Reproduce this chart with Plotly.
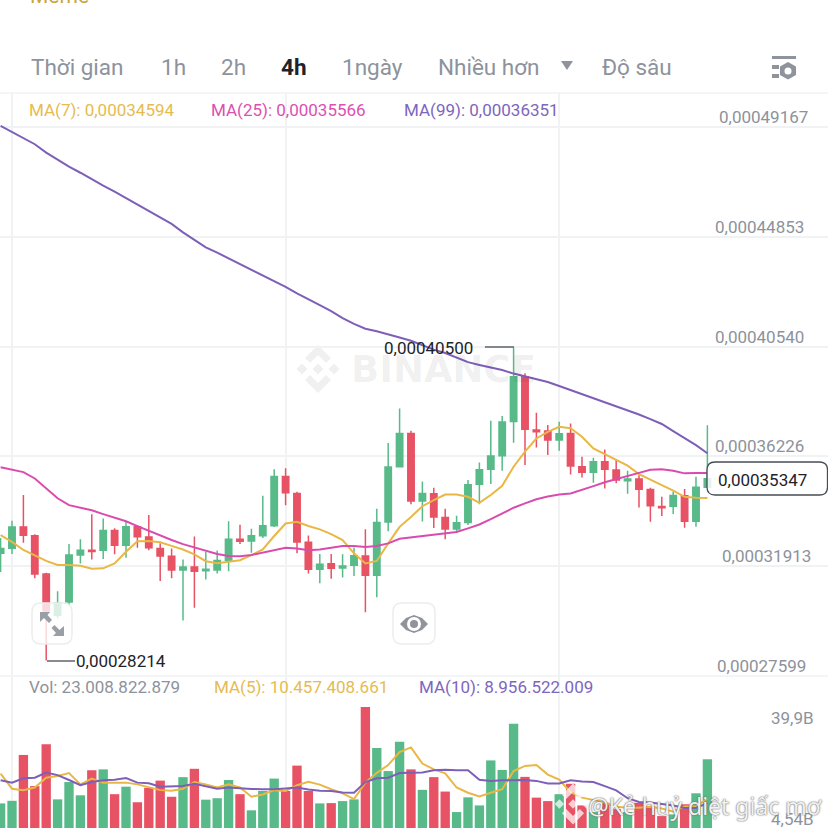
import plotly.graph_objects as go

# prices are in units of 0.0000001, volumes in billions
opens = [3242, 3262, 3345, 3311, 3161, 2999, 3051, 3235, 3254, 3254, 3332, 3274, 3346, 3306, 3261, 3230,
         3176, 3188, 3173, 3176, 3215, 3297, 3290, 3311, 3350, 3544, 3477, 3285, 3179, 3201, 3184, 3195,
         3231, 3156, 3365, 3582, 3713, 3447, 3476, 3383, 3337, 3363, 3513, 3572, 3625, 3760, 3936, 3726,
         3722, 3687, 3713, 3582, 3560, 3602, 3569, 3527, 3534, 3493, 3426, 3427, 3468, 3368, 3501]
highs = [3302, 3370, 3471, 3317, 3166, 3093, 3278, 3297, 3395, 3379, 3340, 3365, 3353, 3392, 3281, 3261,
         3218, 3308, 3248, 3253, 3368, 3354, 3338, 3468, 3572, 3576, 3484, 3312, 3239, 3239, 3238, 3265,
         3336, 3417, 3675, 3811, 3723, 3524, 3499, 3417, 3389, 3530, 3599, 3763, 3781, 4050, 3949, 3794,
         3746, 3759, 3752, 3621, 3617, 3650, 3611, 3566, 3549, 3499, 3464, 3484, 3495, 3543, 3745]
lows = [3168, 3239, 3283, 3144, 2821, 2987, 3036, 3202, 3218, 3220, 3238, 3224, 3264, 3254, 3133, 3144,
        2978, 3028, 3139, 3163, 3171, 3278, 3244, 3302, 3345, 3431, 3242, 3163, 3124, 3142, 3147, 3153,
        3010, 3069, 3329, 3582, 3435, 3367, 3341, 3297, 3326, 3353, 3435, 3514, 3566, 3676, 3589, 3658,
        3628, 3645, 3552, 3540, 3519, 3497, 3517, 3476, 3422, 3366, 3388, 3396, 3342, 3346, 3501]
closes = [3261, 3345, 3313, 3161, 3015, 3046, 3235, 3254, 3249, 3332, 3274, 3346, 3307, 3264, 3231, 3176,
          3188, 3171, 3179, 3214, 3297, 3289, 3311, 3350, 3544, 3480, 3286, 3179, 3199, 3183, 3192, 3232,
          3156, 3363, 3581, 3713, 3447, 3477, 3385, 3337, 3362, 3511, 3570, 3624, 3758, 3936, 3729, 3719,
          3687, 3712, 3585, 3560, 3602, 3572, 3530, 3534, 3494, 3429, 3421, 3469, 3368, 3501, 3535]

ma7 = [3313, 3287, 3255, 3235, 3212, 3196, 3196, 3193, 3181, 3183, 3202, 3248, 3289, 3290, 3285, 3271,
       3257, 3238, 3211, 3203, 3210, 3215, 3235, 3257, 3310, 3359, 3366, 3349, 3336, 3317, 3294, 3242,
       3202, 3212, 3281, 3346, 3385, 3427, 3451, 3473, 3473, 3464, 3440, 3471, 3507, 3582, 3641, 3693,
       3719, 3739, 3733, 3700, 3654, 3632, 3608, 3586, 3553, 3530, 3510, 3488, 3464, 3460, 3459]
ma25 = [3580, 3572, 3561, 3536, 3497, 3458, 3431, 3422, 3411, 3396, 3381, 3368, 3349, 3330, 3310, 3294,
        3278, 3265, 3251, 3239, 3231, 3230, 3235, 3245, 3253, 3264, 3261, 3254, 3257, 3265, 3271, 3271,
        3267, 3271, 3281, 3299, 3304, 3311, 3316, 3319, 3326, 3340, 3355, 3376, 3399, 3421, 3438, 3454,
        3465, 3473, 3477, 3490, 3506, 3521, 3534, 3548, 3558, 3570, 3572, 3566, 3556, 3557, 3557]
ma99 = [4921, 4896, 4872, 4849, 4816, 4787, 4761, 4737, 4711, 4686, 4663, 4638, 4614, 4588, 4562, 4536,
        4503, 4473, 4444, 4423, 4401, 4378, 4355, 4332, 4312, 4289, 4263, 4241, 4217, 4193, 4166, 4143,
        4124, 4114, 4103, 4090, 4077, 4060, 4042, 4029, 4011, 3993, 3982, 3972, 3962, 3948, 3938, 3928,
        3915, 3899, 3883, 3868, 3852, 3836, 3820, 3805, 3787, 3769, 3750, 3722, 3695, 3667, 3635]

volumes = [8.9, 9.8, 25.7, 14.9, 29.4, 10.3, 16.3, 11.7, 20.4, 20.7, 12.1, 14.7, 9.3, 14.3, 16.8, 11.2,
           18.0, 20.9, 10.2, 10.7, 17.0, 12.1, 6.5, 13.2, 17.5, 13.2, 22.0, 13.2, 8.9, 9.0, 9.7, 10.3,
           42.3, 28.1, 20.1, 30.3, 20.7, 13.6, 18.0, 13.0, 5.9, 11.0, 8.2, 23.8, 20.5, 36.5, 18.1, 10.9,
           9.7, 12.1, 15.7, 8.2, 5.9, 9.1, 6.9, 5.9, 9.1, 8.0, 4.5, 5.1, 8.6, 12.4, 24.2]
vol_ma5 = [19.2, 14.0, 13.5, 14.4, 17.8, 18.4, 19.4, 15.5, 17.5, 16.1, 16.1, 16.1, 15.5, 14.4, 13.5, 13.3,
           14.0, 16.3, 15.5, 14.4, 15.5, 14.4, 11.2, 12.0, 13.5, 13.2, 15.2, 16.4, 15.4, 13.8, 12.4, 10.4,
           16.1, 19.5, 22.2, 26.7, 28.3, 22.7, 20.7, 19.3, 14.4, 12.6, 11.3, 12.6, 13.8, 20.1, 21.9, 22.2,
           18.9, 17.2, 12.8, 10.9, 10.1, 9.2, 7.7, 7.4, 7.4, 7.7, 7.1, 6.0, 7.8, 7.9, 10.5]
vol_ma10 = [16.9, 16.1, 17.6, 17.8, 19.6, 18.7, 17.0, 15.2, 16.3, 16.9, 17.1, 17.7, 16.1, 15.9, 14.7, 14.9,
            14.9, 15.7, 14.9, 14.0, 14.4, 14.1, 13.9, 13.8, 13.8, 14.1, 14.4, 13.7, 13.3, 13.2, 12.7, 12.6,
            16.3, 17.6, 17.8, 19.4, 19.4, 19.6, 20.4, 20.6, 20.4, 20.4, 17.1, 16.7, 16.9, 17.0, 17.0, 16.7,
            15.8, 15.8, 16.9, 16.5, 16.3, 14.9, 13.4, 10.7, 9.4, 9.2, 8.8, 8.2, 7.3, 7.3, 9.0]

price_ticks = [0.00049167, 0.00044853, 0.00040540, 0.00036226, 0.00031913, 0.00027599]
price_labels = ["0,00049167", "0,00044853", "0,00040540", "0,00036226", "0,00031913", "0,00027599"]
price_label_right = [810, 806, 806, 806, 813, 808]
grid_candles = [1, 25, 49]
tabs = ["Thời gian", "1h", "2h", "4h", "1ngày", "Nhiều hơn", "Độ sâu"]
tab_left = [31, 161, 221, 281, 342, 438, 602]

GREEN = "#58ba89"
RED = "#e75264"
YELLOW = "#e9b744"
PINK = "#d94cae"
PURPLE = "#7e5fb8"
GRID = "#f1f2f3"
GREY = "#8d929c"
DARK = "#1e2329"
FONT = "Roboto"
SIZE = 828


def p(v):
    return v * 1e-7


def b(v):
    return v * 1e9


def path(points, close=True):
    d = "M" + " L".join(f"{x / SIZE:.5f},{1 - y / SIZE:.5f}" for x, y in points)
    return d + (" Z" if close else "")


def rounded(x0, y0, x1, y1, r):
    X = lambda v: f"{v / SIZE:.5f}"
    Y = lambda v: f"{1 - v / SIZE:.5f}"
    return (f"M{X(x0 + r)},{Y(y0)} L{X(x1 - r)},{Y(y0)} Q{X(x1)},{Y(y0)} {X(x1)},{Y(y0 + r)} "
            f"L{X(x1)},{Y(y1 - r)} Q{X(x1)},{Y(y1)} {X(x1 - r)},{Y(y1)} "
            f"L{X(x0 + r)},{Y(y1)} Q{X(x0)},{Y(y1)} {X(x0)},{Y(y1 - r)} "
            f"L{X(x0)},{Y(y0 + r)} Q{X(x0)},{Y(y0)} {X(x0 + r)},{Y(y0)} Z")


idx = list(range(len(closes)))
fig = go.Figure()

fig.add_trace(go.Candlestick(
    x=idx, open=[p(v) for v in opens], high=[p(v) for v in highs], low=[p(v) for v in lows],
    close=[p(v) for v in closes], whiskerwidth=0,
    increasing=dict(line=dict(color=GREEN, width=1.5), fillcolor=GREEN),
    decreasing=dict(line=dict(color=RED, width=1.5), fillcolor=RED),
    xaxis="x", yaxis="y",
))
for vals, col in [(ma7, YELLOW), (ma25, PINK), (ma99, PURPLE)]:
    fig.add_trace(go.Scatter(x=idx, y=[p(v) for v in vals], mode="lines",
                             line=dict(color=col, width=2), xaxis="x", yaxis="y"))

vol_colors = [GREEN if c >= o else RED for o, c in zip(opens, closes)]
fig.add_trace(go.Bar(x=idx, y=[b(v) for v in volumes], marker=dict(color=vol_colors, line_width=0),
                     xaxis="x2", yaxis="y2"))
for vals, col in [(vol_ma5, YELLOW), (vol_ma10, PURPLE)]:
    fig.add_trace(go.Scatter(x=idx, y=[b(v) for v in vals], mode="lines",
                             line=dict(color=col, width=2), xaxis="x2", yaxis="y2"))

shapes = []
annotations = []


def text(x, y, s, color=GREY, size=17, anchor="left", **font):
    x = x - 1 if anchor == "left" else x
    annotations.append(dict(x=x / SIZE, y=1 - y / SIZE, xref="paper", yref="paper", text=s, showarrow=False,
                            xanchor=anchor, yanchor="middle", borderpad=0,
                            font=dict(family=font.pop("family", FONT), color=color, size=size, **font)))


def logo(cx, cy, scale, color, layer):
    parts = [
        [(0, -5.5), (5.5, 0), (0, 5.5), (-5.5, 0)],
        [(-16, -5.5), (-10.5, 0), (-16, 5.5), (-21.5, 0)],
        [(16, -5.5), (21.5, 0), (16, 5.5), (10.5, 0)],
        [(0, -24), (13, -11), (8, -6), (0, -14), (-8, -6), (-13, -11)],
        [(0, 24), (13, 11), (8, 6), (0, 14), (-8, 6), (-13, 11)],
    ]
    for part in parts:
        shapes.append(dict(type="path", xref="paper", yref="paper", layer=layer, line_width=0, fillcolor=color,
                           path=path([(cx + x * scale, cy + y * scale) for x, y in part])))


# frame line under the tabs and the bottom line of the price pane
for y in [93, 676]:
    shapes.append(dict(type="path", xref="paper", yref="paper", layer="below",
                       path=path([(0, y), (SIZE, y)], close=False), line=dict(color=GRID, width=1.5)))

logo(318, 369, 1, "#f0f0f0", "below")
annotations.append(dict(x=443 / SIZE, y=1 - 369 / SIZE, xref="paper", yref="paper", text="BINANCE", showarrow=False,
                        font=dict(family="DejaVu Sans", size=37, color="rgba(40,40,40,0.075)", weight="bold")))

# high and low markers
shapes.append(dict(type="path", xref="paper", yref="paper", path=path([(485, 347), (514, 347)], close=False),
                   line=dict(color="#474d57", width=1.3)))
shapes.append(dict(type="path", xref="paper", yref="paper", path=path([(47, 661), (75, 661)], close=False),
                   line=dict(color="#474d57", width=1.3)))
text(384, 348, "0,00040500", DARK)
text(76, 661, "0,00028214", DARK)

# expand button
shapes.append(dict(type="path", xref="paper", yref="paper", path=rounded(32, 603, 72, 644, 9),
                   fillcolor="rgba(255,255,255,0.78)", line=dict(color="#eceded", width=1.5)))
for pts in [[(40, 612), (50, 612), (47.5, 615), (52, 620), (49, 623), (44, 618), (40, 622)],
            [(64, 636), (53, 636), (56, 633), (51.5, 628), (54.5, 625), (59.5, 630), (64, 626)]]:
    shapes.append(dict(type="path", xref="paper", yref="paper", path=path(pts), fillcolor="#9a9ea6", line_width=0))

# eye button
shapes.append(dict(type="path", xref="paper", yref="paper", path=rounded(393, 603, 435, 644, 9),
                   fillcolor="rgba(255,255,255,0.9)", line=dict(color="#eceded", width=1.5)))
shapes.append(dict(type="path", xref="paper", yref="paper", line_width=0, fillcolor="#8f939c",
                   path=path([(400, 624), (406, 618), (414, 615), (422, 618), (428, 624),
                              (422, 630), (414, 633), (406, 630)])))
for r, col in [(7, "white"), (4, "#8f939c")]:
    shapes.append(dict(type="circle", xref="paper", yref="paper", line_width=0, fillcolor=col,
                       x0=(414 - r) / SIZE, x1=(414 + r) / SIZE, y0=1 - (624 + r) / SIZE, y1=1 - (624 - r) / SIZE))

# settings icon and dropdown triangle in the tab row
for y0, y1, x0, x1 in [(56, 59, 772, 796), (65, 69, 772, 779), (74, 78, 772, 779)]:
    shapes.append(dict(type="rect", xref="paper", yref="paper", line_width=0, fillcolor="#8f939c",
                       x0=x0 / SIZE, x1=x1 / SIZE, y0=1 - y1 / SIZE, y1=1 - y0 / SIZE))
shapes.append(dict(type="path", xref="paper", yref="paper", line_width=0, fillcolor="#8f939c",
                   path=path([(788, 62), (796, 66.5), (796, 75), (788, 79.5), (780, 75), (780, 66.5)])))
shapes.append(dict(type="circle", xref="paper", yref="paper", line_width=0, fillcolor="white",
                   x0=784.5 / SIZE, x1=791.5 / SIZE, y0=1 - 74.5 / SIZE, y1=1 - 67.5 / SIZE))
shapes.append(dict(type="path", xref="paper", yref="paper", line_width=0, fillcolor="#8f939c",
                   path=path([(561, 61), (573, 61), (567, 70)])))

# current price box
shapes.append(dict(type="path", xref="paper", yref="paper", path=rounded(707, 462, 827.5, 495, 8),
                   fillcolor="rgba(255,255,255,0.82)", line=dict(color="#474d57", width=1.3)))
text(718, 479.5, "0,00035347", DARK)

# screenshot overlay bottom right
logo(573, 804, 0.85, "rgba(255,255,255,0.72)", "above")

text(30, -4, "Meme", "#c9a53f", 21)
for label, left in zip(tabs, tab_left):
    is_active = label == "4h"
    text(left, 67, label, DARK if is_active else GREY, 22.5, weight="bold" if is_active else "normal")

text(29, 110, "MA(7): 0,00034594", "#e6bb50")
text(211, 110, "MA(25): 0,00035566", "#dc50b2")
text(404, 110, "MA(99): 0,00036351", "#7d66be")
text(29, 687, "Vol: 23.008.822.879")
text(214, 687, "MA(5): 10.457.408.661", "#e6bb50")
text(419, 687, "MA(10): 8.956.522.009", "#7d66be")

for v, label, right in zip(price_ticks, price_labels, price_label_right):
    annotations.append(dict(x=right / SIZE, y=v, xref="paper", yref="y", text=label, showarrow=False, xanchor="right",
                            yshift=10, font=dict(family=FONT, color=GREY, size=17)))
text(815, 718, "39,9B", anchor="right")
text(815, 819, "4,54B", anchor="right")
text(705, 806, "@Kẻ huỷ diệt giấc mơ", "rgba(255,255,255,0.92)", 23, anchor="center", family="Noto Sans",
     shadow="0 0 2px #666, 0 0 1px #666")

x_range = [-0.0526, 72.58]
fig.update_layout(
    width=SIZE, height=SIZE, margin=dict(l=0, r=0, t=0, b=0), showlegend=False,
    paper_bgcolor="white", plot_bgcolor="white", boxgap=0.2, bargap=0.18,
    xaxis=dict(domain=[0, 1], range=x_range, anchor="y", rangeslider_visible=False, showticklabels=False,
               tickvals=grid_candles, gridcolor=GRID, gridwidth=1.5, zeroline=False, ticks=""),
    xaxis2=dict(domain=[0, 1], range=x_range, anchor="y2", matches="x", showticklabels=False,
                tickvals=grid_candles, gridcolor=GRID, gridwidth=1.5, zeroline=False, ticks=""),
    yaxis=dict(domain=[152 / SIZE, 735 / SIZE], range=[0.00027599, 0.00050503], side="right",
               tickvals=price_ticks, showticklabels=False, gridcolor=GRID, gridwidth=1.5, zeroline=False),
    yaxis2=dict(domain=[0, 152 / SIZE], range=[b(0.37), b(53.07)], side="right",
                showticklabels=False, showgrid=False, zeroline=False),
    shapes=shapes, annotations=annotations,
)

fig.write_html("out.html", config={"displayModeBar": False},
               post_script="document.body.style.margin='0';")
